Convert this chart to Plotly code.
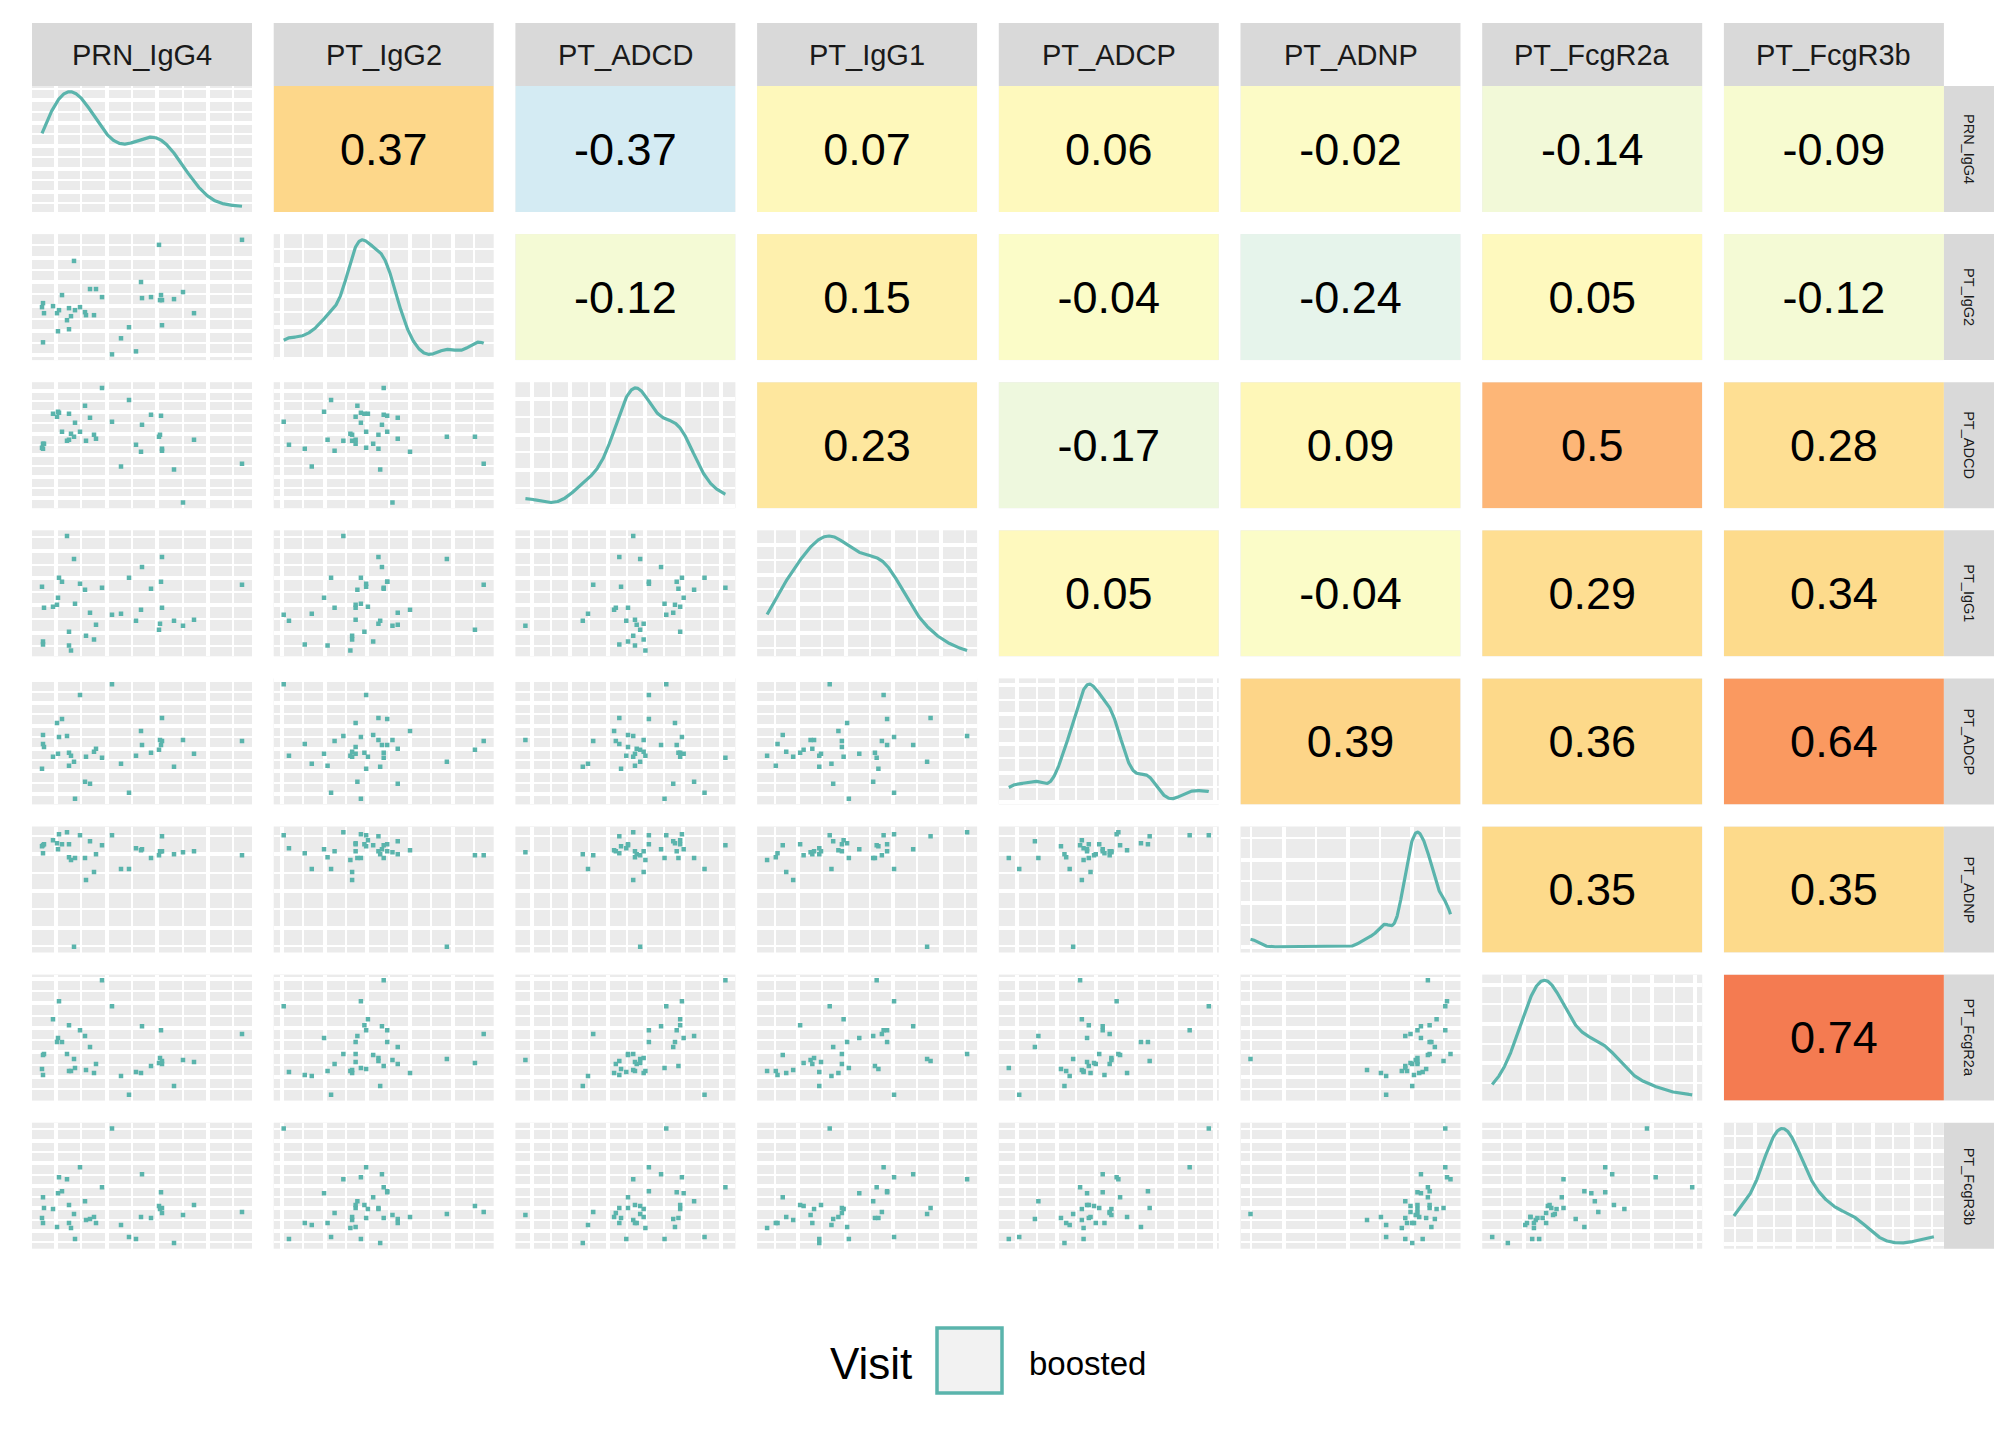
import numpy as np
import plotly.graph_objects as go

# variable order of the pairs matrix
variables = ["PRN_IgG4", "PT_IgG2", "PT_ADCD", "PT_IgG1",
             "PT_ADCP", "PT_ADNP", "PT_FcgR2a", "PT_FcgR3b"]

PRN_IgG4 = [4.2, 4.5, 4.5, 4.8, 7.5, 8.7, 9.0, 9.3, 10.2, 11.7, 12.3, 12.3, 12.9,
            13.8, 14.1, 15.6, 17.1, 17.4, 18.6, 19.8, 20.4, 22.2, 25.2, 27.9, 30.3,
            32.4, 33.9, 34.2, 36.9, 39.3, 39.6, 39.9, 40.2, 40.2, 43.8, 46.5, 49.8, 64.2]
PT_IgG2 = [16.3, 17.5, 5.8, 14.5, 16.6, 14.5, 9.1, 15.4, 19.9, 12.4, 16.0, 9.7, 13.6,
           30.1, 15.4, 16.3, 14.8, 13.9, 21.7, 13.9, 21.7, 19.3, 2.2, 7.0, 10.3,
           3.1, 23.8, 19.0, 19.3, 34.9, 18.4, 19.9, 18.4, 10.9, 18.7, 20.8, 14.5, 36.4]
PT_ADCD = [19.0, 20.2, 18.7, 20.2, 29.2, 28.3, 29.8, 29.5, 23.8, 21.1, 29.2, 21.4, 23.2,
           22.3, 26.5, 23.8, 31.6, 21.1, 28.0, 22.9, 21.7, 37.0, 26.8, 13.3, 33.4,
           19.9, 17.8, 25.9, 28.9, 22.3, 22.9, 28.6, 18.7, 18.1, 12.4, 2.5, 21.4, 14.2]
PT_IgG1 = [21.7, 5.2, 4.3, 15.4, 15.7, 16.3, 18.4, 24.4, 23.2, 37.0, 8.2, 4.0, 2.5,
           30.1, 16.6, 22.6, 20.8, 7.0, 13.9, 5.8, 10.3, 21.4, 13.3, 13.6, 24.4,
           11.5, 14.8, 27.7, 21.1, 8.8, 10.6, 23.2, 30.7, 15.4, 11.5, 10.0, 11.8, 22.3]
PT_ADCP = [12.1, 22.3, 19.6, 18.7, 15.7, 25.9, 16.6, 21.7, 27.1, 22.0, 16.9, 13.0, 16.0,
           14.2, 3.1, 34.3, 8.2, 15.7, 7.6, 17.2, 18.1, 15.4, 37.6, 13.6, 4.9,
           16.0, 23.5, 19.3, 16.9, 17.8, 20.8, 19.3, 27.4, 20.5, 12.7, 20.8, 16.6, 20.5]
PT_ADNP = [33.1, 33.4, 31.0, 33.7, 34.9, 34.0, 32.2, 36.7, 33.7, 37.3, 33.7, 29.8, 28.9,
           2.8, 29.5, 36.4, 29.5, 22.9, 34.6, 25.3, 30.7, 33.4, 36.4, 26.2, 26.2,
           32.5, 31.9, 32.2, 29.5, 30.4, 31.6, 31.6, 36.1, 31.6, 30.7, 31.3, 31.6, 30.4]
PT_FcgR2a = [11.2, 15.4, 9.4, 15.7, 26.2, 19.3, 20.5, 31.6, 19.3, 15.7, 24.4, 10.6, 10.6,
             14.2, 11.5, 22.9, 21.1, 10.9, 17.8, 10.0, 12.7, 37.9, 30.1, 9.1, 3.4,
             10.3, 10.0, 24.1, 12.1, 13.0, 14.5, 22.9, 13.6, 12.7, 6.1, 13.9, 13.3, 21.7]
PT_FcgR3b = [10.3, 16.6, 8.8, 13.3, 13.0, 7.6, 17.8, 22.6, 18.4, 22.0, 14.2, 8.8, 7.3,
             11.5, 4.0, 25.6, 15.4, 9.7, 10.0, 10.6, 8.8, 19.6, 37.3, 8.2, 4.6,
             4.0, 10.6, 23.5, 10.3, 13.9, 13.0, 18.1, 13.3, 11.8, 2.8, 11.2, 14.2, 12.1]

# correlations printed in the upper triangle, row by row
corr_upper = [
    [0.37, -0.37, 0.07, 0.06, -0.02, -0.14, -0.09],
    [-0.12, 0.15, -0.04, -0.24, 0.05, -0.12],
    [0.23, -0.17, 0.09, 0.5, 0.28],
    [0.05, -0.04, 0.29, 0.34],
    [0.39, 0.36, 0.64],
    [0.35, 0.35],
    [0.74],
]

legend_title = "Visit"
legend_label = "boosted"

data = dict(zip(variables, [PRN_IgG4, PT_IgG2, PT_ADCD, PT_IgG1,
                            PT_ADCP, PT_ADNP, PT_FcgR2a, PT_FcgR3b]))

# major grid (tick0, dtick) per variable, minor lines halfway
grid = {
    "PRN_IgG4": (8.4, 15.2),
    "PT_IgG2": (1.9, 7.3),
    "PT_ADCD": (3.7, 6.5),
    "PT_IgG1": (7.9, 8.2),
    "PT_ADCP": (4.5, 6.85),
    "PT_ADNP": (8.5, 11.1),
    "PT_FcgR2a": (8.8, 7.4),
    "PT_FcgR3b": (6.4, 6.8),
}

# style
W, H = 2016, 1440
FONT = "Liberation Sans, Arial, sans-serif"
TEAL = "#5AB4AC"
PANEL_BG = "#EBEBEB"
STRIP_BG = "#D9D9D9"
TEXT = "#1A1A1A"
corr_scale = [
    [0.0, "#74ADD1"], [0.315, "#D4EBF3"], [0.38, "#E6F4EB"], [0.43, "#F2F9D8"],
    [0.48, "#FBFCC8"], [0.525, "#FEF9BE"], [0.545, "#FEF7B8"], [0.575, "#FEF0AD"],
    [0.615, "#FEE79E"], [0.64, "#FEDF93"], [0.67, "#FDDB8C"], [0.695, "#FDD588"],
    [0.75, "#FDB677"], [0.82, "#FA9960"], [0.87, "#F47B51"], [1.0, "#D73027"],
]

# panel geometry in pixels
COL_X0, COL_STEP, COL_W = 32, 241.7, 220
ROW_Y0, ROW_STEP, ROW_H = 86, 148.1, 126
STRIP_TOP = 23
RSTRIP_X0, RSTRIP_X1 = 1944, 1994


def px(x):
    return x / W


def py(y):
    return 1 - y / H


def axis_range(vals):
    lo, hi = min(vals), max(vals)
    pad = 0.05 * (hi - lo)
    return [lo - pad, hi + pad]


def kde_curve(vals, n_pts=512):
    v = np.asarray(vals, float)
    sd = v.std(ddof=1)
    q75, q25 = np.percentile(v, [75, 25])
    bw = 0.9 * min(sd, (q75 - q25) / 1.34) * len(v) ** -0.2
    xs = np.linspace(v.min(), v.max(), n_pts)
    ys = np.exp(-0.5 * ((xs[:, None] - v[None, :]) / bw) ** 2).sum(1)
    ys = ys / (len(v) * bw * np.sqrt(2 * np.pi))
    return xs, ys


def pretty_step(span, n=4):
    raw = span / n
    mag = 10 ** np.floor(np.log10(raw))
    best = min([1, 2, 5, 10], key=lambda m: abs(span / (m * mag) - n))
    return best * mag


def base_axis(domain, anchor):
    return dict(domain=domain, anchor=anchor, showticklabels=False, ticks="",
                zeroline=False, showline=False, fixedrange=True)


def grid_axis(t0, dt, rng):
    return dict(range=rng, showgrid=True, gridcolor="white", gridwidth=3.5,
                tick0=t0, dtick=dt,
                minor=dict(showgrid=True, gridcolor="white", gridwidth=1.8,
                           tick0=t0, dtick=dt / 2))


fig = go.Figure()
layout = {}
n = len(variables)

for r in range(n):
    for c in range(n):
        idx = r * n + c + 1
        sfx = "" if idx == 1 else str(idx)
        x0 = COL_X0 + c * COL_STEP
        y0 = ROW_Y0 + r * ROW_STEP
        xdom = [px(x0), px(x0 + COL_W)]
        ydom = [py(y0 + ROW_H), py(y0)]
        xa = base_axis(xdom, "y" + sfx)
        ya = base_axis(ydom, "x" + sfx)
        vx, vy = variables[c], variables[r]

        if c > r:
            val = corr_upper[r][c - r - 1]
            fig.add_trace(go.Heatmap(
                z=[[val]], x=[0], y=[0], zmin=-1, zmax=1,
                colorscale=corr_scale, showscale=False,
                text=[[str(val)]], texttemplate="%{text}",
                textfont=dict(size=45, color="black", family=FONT),
                hoverinfo="skip", xaxis="x" + sfx, yaxis="y" + sfx))
            xa.update(range=[-0.5, 0.5], showgrid=False)
            ya.update(range=[-0.5, 0.5], showgrid=False)
        elif c == r:
            xs, ys = kde_curve(data[vx])
            fig.add_trace(go.Scatter(
                x=xs, y=ys, mode="lines", line=dict(color=TEAL, width=3.2),
                hoverinfo="skip", xaxis="x" + sfx, yaxis="y" + sfx))
            xa.update(grid_axis(*grid[vx], axis_range(data[vx])))
            dlo, dhi = ys.min(), ys.max()
            pad = 0.05 * (dhi - dlo)
            step = pretty_step(dhi - dlo)
            ya.update(grid_axis(0, step, [dlo - pad, dhi + pad]))
        else:
            fig.add_trace(go.Scatter(
                x=data[vx], y=data[vy], mode="markers",
                marker=dict(symbol="square", size=4.5, color=TEAL),
                hoverinfo="skip", xaxis="x" + sfx, yaxis="y" + sfx))
            xa.update(grid_axis(*grid[vx], axis_range(data[vx])))
            ya.update(grid_axis(*grid[vy], axis_range(data[vy])))

        layout["xaxis" + sfx] = xa
        layout["yaxis" + sfx] = ya

shapes = []
annotations = []

# top strips
for c, name in enumerate(variables):
    x0 = COL_X0 + c * COL_STEP
    shapes.append(dict(type="rect", xref="paper", yref="paper",
                       x0=px(x0), x1=px(x0 + COL_W), y0=py(ROW_Y0), y1=py(STRIP_TOP),
                       fillcolor=STRIP_BG, line=dict(width=0), layer="below"))
    annotations.append(dict(text=name, xref="paper", yref="paper",
                            x=px(x0 + COL_W / 2), y=py((ROW_Y0 + STRIP_TOP) / 2),
                            xanchor="center", yanchor="middle",
                            showarrow=False, font=dict(size=29, color=TEXT, family=FONT)))

# right strips
for r, name in enumerate(variables):
    y0 = ROW_Y0 + r * ROW_STEP
    shapes.append(dict(type="rect", xref="paper", yref="paper",
                       x0=px(RSTRIP_X0), x1=px(RSTRIP_X1), y0=py(y0 + ROW_H), y1=py(y0),
                       fillcolor=STRIP_BG, line=dict(width=0), layer="below"))
    annotations.append(dict(text=name, xref="paper", yref="paper", textangle=90,
                            x=px((RSTRIP_X0 + RSTRIP_X1) / 2), y=py(y0 + ROW_H / 2),
                            xanchor="center", yanchor="middle",
                            showarrow=False, font=dict(size=14.5, color=TEXT, family=FONT)))

# legend
annotations.append(dict(text=legend_title, xref="paper", yref="paper",
                        x=px(871), y=py(1363), xanchor="center", yanchor="middle",
                        showarrow=False,
                        font=dict(size=44, color="black", family=FONT)))
shapes.append(dict(type="rect", xref="paper", yref="paper",
                   x0=px(937), x1=px(1002), y0=py(1393), y1=py(1328),
                   fillcolor="#F2F2F2", line=dict(color=TEAL, width=3.5)))
annotations.append(dict(text=legend_label, xref="paper", yref="paper",
                        x=px(1027), y=py(1363), xanchor="left", yanchor="middle",
                        showarrow=False,
                        font=dict(size=33, color="black", family=FONT)))

fig.update_layout(
    width=W, height=H, autosize=False,
    margin=dict(l=0, r=0, t=0, b=0),
    paper_bgcolor="white", plot_bgcolor=PANEL_BG,
    showlegend=False,
    font=dict(family=FONT, color=TEXT),
    shapes=shapes, annotations=annotations,
    **layout,
)

fig.write_html("out.html", config={"displayModeBar": False},
               post_script="document.body.style.margin='0';")
